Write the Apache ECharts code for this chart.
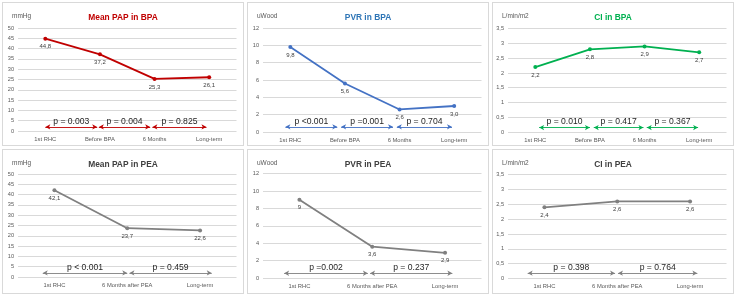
<!DOCTYPE html>
<html lang="en">
<head>
  <meta charset="UTF-8" />
  <title>BPA / PEA haemodynamics</title>
  <script src="https://cdn.jsdelivr.net/npm/echarts@6/dist/echarts.min.js"></script>
  <style>
    body {
      margin: 0;
      background: #ffffff;
      width: 736px;
      height: 297px;
      position: relative;
      overflow: hidden;
      font-family: 'Liberation Sans', Arial, sans-serif;
    }
    .panel {
      position: absolute;
      width: 240px;
      border: 1px solid #d9d9d9;
      background: #fff;
    }
  </style>
</head>
<body>
  <div class="panel" id="p1" style="left:2px;top:2px;height:142px"></div>
  <div class="panel" id="p2" style="left:247px;top:2px;height:142px"></div>
  <div class="panel" id="p3" style="left:492px;top:2px;height:142px"></div>
  <div class="panel" id="p4" style="left:2px;top:149px;height:143px"></div>
  <div class="panel" id="p5" style="left:247px;top:149px;height:143px"></div>
  <div class="panel" id="p6" style="left:492px;top:149px;height:143px"></div>
  <script>
    // categories
    const bpaStages = ['1st RHC', 'Before BPA', '6 Months', 'Long-term'];
    const peaStages = ['1st RHC', '6 Months after PEA', 'Long-term'];

    // values as printed on the chart (comma decimals)
    const papBpa = ['44,8', '37,2', '25,3', '26,1'];
    const pvrBpa = ['9,8', '5,6', '2,6', '3,0'];
    const ciBpa = ['2,2', '2,8', '2,9', '2,7'];
    const papPea = ['42,1', '23,7', '22,6'];
    const pvrPea = ['9', '3,6', '2,9'];
    const ciPea = ['2,4', '2,6', '2,6'];

    // p-value brackets: [from, to] in category units, and their texts
    const papBpaArrows = [[0, 0.95], [0.98, 1.92], [1.96, 2.95]];
    const papBpaP = ['p = 0.003', 'p = 0.004', 'p = 0.825'];
    const pvrBpaArrows = [[-0.09, 0.86], [0.93, 1.88], [1.95, 2.96]];
    const pvrBpaP = ['p <0.001', 'p =0.001', 'p = 0.704'];
    const ciBpaArrows = [[0.07, 1.0], [1.07, 1.98], [2.04, 2.98]];
    const ciBpaP = ['p = 0.010', 'p = 0.417', 'p = 0.367'];
    const papPeaArrows = [[-0.16, 1.0], [1.03, 2.16]];
    const papPeaP = ['p < 0.001', 'p = 0.459'];
    const pvrPeaArrows = [[-0.21, 0.94], [0.97, 2.1]];
    const pvrPeaP = ['p =0.002', 'p = 0.237'];
    const ciPeaArrows = [[-0.23, 0.97], [1.01, 2.1]];
    const ciPeaP = ['p = 0.398', 'p = 0.764'];

    const FONT = "'Liberation Sans', Arial, sans-serif";
    const toNum = s => parseFloat(s.replace(',', '.'));
    const comma = v => String(v).replace('.', ',');

    const panels = [
      { id: 'p1', title: 'Mean PAP in BPA', unit: 'mmHg', color: '#c00000', titleColor: '#c00000',
        cats: bpaStages, vals: papBpa, max: 50, step: 5, arrows: papBpaArrows, ps: papBpaP, arrowY: 2, top: 25, bottom: 14 },
      { id: 'p2', title: 'PVR in BPA', unit: 'uWood', color: '#4472c4', titleColor: '#2e75b6',
        cats: bpaStages, vals: pvrBpa, max: 12, step: 2, arrows: pvrBpaArrows, ps: pvrBpaP, arrowY: 0.6, top: 25, bottom: 13 },
      { id: 'p3', title: 'CI in BPA', unit: 'L/min/m2', color: '#00b050', titleColor: '#00b050',
        cats: bpaStages, vals: ciBpa, max: 3.5, step: 0.5, arrows: ciBpaArrows, ps: ciBpaP, arrowY: 0.15, top: 25.7, bottom: 13 },
      { id: 'p4', title: 'Mean PAP in PEA', unit: 'mmHg', color: '#808080', titleColor: '#404040',
        cats: peaStages, vals: papPea, max: 50, step: 5, arrows: papPeaArrows, ps: papPeaP, arrowY: 2, top: 24, bottom: 16 },
      { id: 'p5', title: 'PVR in PEA', unit: 'uWood', color: '#808080', titleColor: '#404040',
        cats: peaStages, vals: pvrPea, max: 12, step: 2, arrows: pvrPeaArrows, ps: pvrPeaP, arrowY: 0.55, top: 23.7, bottom: 15 },
      { id: 'p6', title: 'CI in PEA', unit: 'L/min/m2', color: '#808080', titleColor: '#404040',
        cats: peaStages, vals: ciPea, max: 3.5, step: 0.5, arrows: ciPeaArrows, ps: ciPeaP, arrowY: 0.18, top: 24.7, bottom: 14.5 }
    ];

    function makePanel(cfg) {
      const chart = echarts.init(document.getElementById(cfg.id), null, { renderer: 'canvas' });
      const n = cfg.cats.length;
      const markData = cfg.arrows.map(([a, b], i) => [
        { coord: [a, cfg.arrowY], label: { formatter: cfg.ps[i] } },
        { coord: [b, cfg.arrowY] }
      ]);
      chart.setOption({
        animation: false,
        textStyle: { fontFamily: FONT },
        title: [
          { text: cfg.title, left: 'center', top: 6,
            textStyle: { fontSize: 8.4, fontWeight: 'bold', color: cfg.titleColor, fontFamily: FONT } },
          { text: cfg.unit, left: 4, top: 5,
            textStyle: { fontSize: 6.5, fontWeight: 'normal', color: '#595959', fontFamily: FONT } }
        ],
        grid: { left: 15, right: 6.5, top: cfg.top, bottom: cfg.bottom },
        xAxis: [
          { type: 'category', data: cfg.cats, boundaryGap: true,
            axisLine: { show: false }, axisTick: { show: false },
            axisLabel: { fontSize: 5.8, color: '#595959', margin: 5, interval: 0 } },
          { type: 'value', min: -0.5, max: n - 0.5, show: false }
        ],
        yAxis: {
          type: 'value', min: 0, max: cfg.max, interval: cfg.step,
          axisLine: { show: false }, axisTick: { show: false },
          axisLabel: { fontSize: 5.6, color: '#595959', margin: 4, formatter: comma },
          splitLine: { lineStyle: { color: '#d9d9d9', width: 1 } }
        },
        series: [
          {
            type: 'line',
            data: cfg.vals.map(toNum),
            symbol: 'circle', symbolSize: 4,
            lineStyle: { color: cfg.color, width: 1.8 },
            itemStyle: { color: cfg.color },
            label: {
              show: true, position: 'bottom', distance: 3,
              fontSize: 6, color: '#404040',
              formatter: p => cfg.vals[p.dataIndex]
            }
          },
          {
            type: 'line',
            xAxisIndex: 1,
            data: cfg.arrows.flat().map(x => [x, cfg.arrowY]),
            symbol: 'none',
            lineStyle: { opacity: 0 },
            silent: true,
            markLine: {
              silent: true,
              symbol: ['arrow', 'arrow'],
              symbolSize: [4, 5],
              lineStyle: { color: cfg.color, width: 0.9, type: 'solid' },
              label: { show: true, position: 'middle', distance: 1,
                fontSize: 8.6, color: '#262626', fontFamily: FONT },
              data: markData
            }
          }
        ]
      });
    }

    panels.forEach(makePanel);
  </script>
</body>
</html>
